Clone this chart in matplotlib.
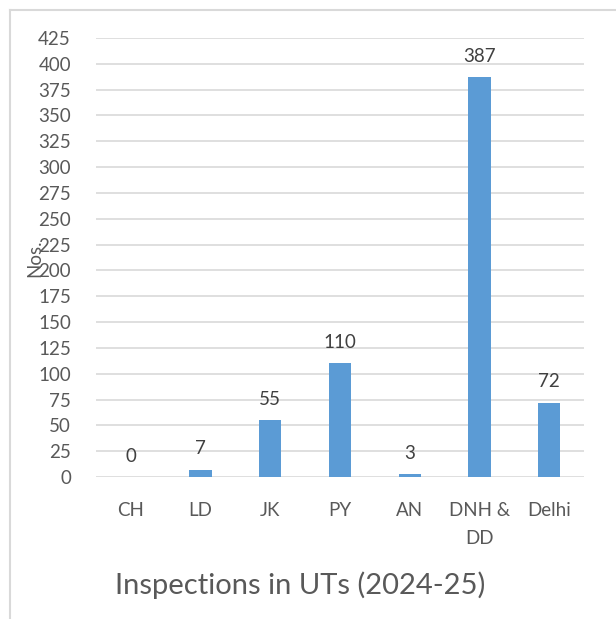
import matplotlib
matplotlib.use("Agg")
import matplotlib.pyplot as plt
from matplotlib.lines import Line2D

# data
categories = ["CH", "LD", "JK", "PY", "AN", "DNH &\nDD", "Delhi"]
inspections = [0, 7, 55, 110, 3, 387, 72]
yticks = list(range(0, 426, 25))

bar_color = "#5B9BD5"
text_color = "#595959"
grid_color = "#D9D9D9"

plt.rcParams["font.family"] = ["Lato", "DejaVu Sans"]

fig = plt.figure(figsize=(6.16, 6.19), dpi=100)
ax = fig.add_axes([96 / 616, 1 - 477 / 619, 488 / 616, (477 - 38) / 619])

x = list(range(len(categories)))
ax.bar(x, inspections, width=0.32, color=bar_color, zorder=3)
for xi, v in zip(x, inspections):
    ax.annotate(str(v), xy=(xi, v), xytext=(0, 11), textcoords="offset points",
                ha="center", va="baseline", fontsize=13.5, color="#404040")

ax.set_xlim(-0.5, len(categories) - 0.5)
ax.set_ylim(0, 425)
ax.set_yticks(yticks)
ax.set_xticks(x)
ax.set_xticklabels(categories, linespacing=1.75)
ax.tick_params(axis="both", length=0, labelsize=13.5, colors=text_color)
ax.tick_params(axis="x", pad=18)
ax.tick_params(axis="y", pad=18)
ax.yaxis.grid(True, color=grid_color, linewidth=1.2, zorder=0)
for s in ax.spines.values():
    s.set_visible(False)

fig.text(35 / 616, 1 - 258 / 619, "Nos.", rotation=90, ha="center", va="center",
         fontsize=13.5, color=text_color)
fig.text(300 / 616, 1 - 585 / 619, "Inspections in UTs (2024-25)", ha="center",
         va="center", fontsize=21, color=text_color)

# outer chart frame
fig.add_artist(Line2D([10 / 616, 10 / 616], [0, 1 - 10 / 619], color=grid_color,
                      linewidth=1.5, transform=fig.transFigure))
fig.add_artist(Line2D([10 / 616, 1], [1 - 10 / 619, 1 - 10 / 619], color=grid_color,
                      linewidth=1.5, transform=fig.transFigure))

fig.savefig("out.png", dpi=100)
